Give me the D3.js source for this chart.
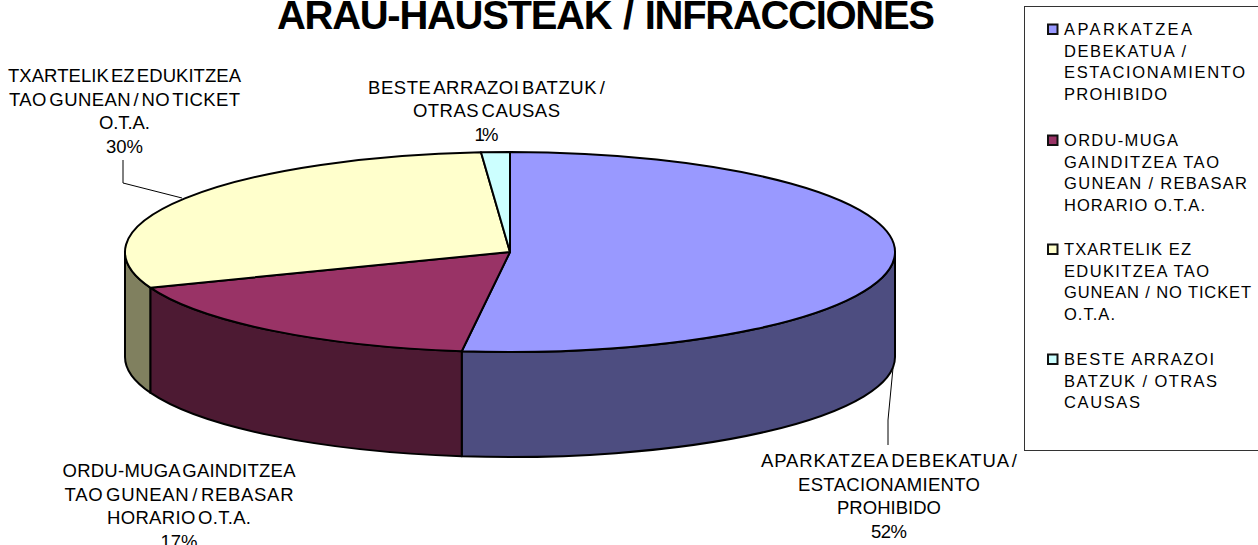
<!DOCTYPE html>
<html>
<head>
<meta charset="utf-8">
<script src="https://cdn.jsdelivr.net/npm/d3@7"></script>
<style>
  html, body { margin: 0; padding: 0; background: #fff; overflow: hidden; }
  text { font-family: "Liberation Sans", Arial, sans-serif; fill: #000; }
  .lbl { font-size: 18.5px; text-anchor: middle; word-spacing: -3px; }
  .leg { font-size: 16.5px; }
</style>
</head>
<body>
<div id="chart"></div>
<script>
// slice values (the printed labels are rounded)
const categories = ['APARKATZEA DEBEKATUA / ESTACIONAMIENTO PROHIBIDO', 'ORDU-MUGA GAINDITZEA TAO GUNEAN / REBASAR HORARIO O.T.A.', 'TXARTELIK EZ EDUKITZEA TAO GUNEAN / NO TICKET O.T.A.', 'BESTE ARRAZOI BATZUK / OTRAS CAUSAS'];
const values = [52, 17.2, 29.6, 1.2];
const topColors = ['#9999ff', '#993366', '#ffffcc', '#ccffff'];
const sideColors = ['#4d4d80', '#4d1a33', '#80805f', '#668080'];

const labelLines = [
    ['APARKATZEA DEBEKATUA /', 'ESTACIONAMIENTO', 'PROHIBIDO', '52%'],
    ['ORDU-MUGA GAINDITZEA', 'TAO GUNEAN / REBASAR', 'HORARIO O.T.A.', '17%'],
    ['TXARTELIK EZ EDUKITZEA', 'TAO GUNEAN / NO TICKET', 'O.T.A.', '30%'],
    ['BESTE ARRAZOI BATZUK /', 'OTRAS CAUSAS', '1%']
];
const labelWidths = [
    [256, 182, 104, 36],
    [233, 229, 144, 37],
    [233, 231, 51, 37],
    [237, 147, 24]
];
const labelPos = [[889, 467], [179, 477], [124.5, 82], [486.5, 93.5]];

const legendLines = [
    ['APARKATZEA', 'DEBEKATUA /', 'ESTACIONAMIENTO', 'PROHIBIDO'],
    ['ORDU-MUGA', 'GAINDITZEA TAO', 'GUNEAN / REBASAR', 'HORARIO O.T.A.'],
    ['TXARTELIK EZ', 'EDUKITZEA TAO', 'GUNEAN / NO TICKET', 'O.T.A.'],
    ['BESTE ARRAZOI', 'BATZUK / OTRAS', 'CAUSAS']
];
const legendWidths = [
    [128, 122, 181, 103],
    [114, 155, 183, 141],
    [127, 145, 187, 51],
    [150, 153, 76]
];

const width = 1258, height = 545;
const depth = 105, labelLineH = 23.5, legendLineH = 21.7;

const svg = d3.select('#chart').append('svg')
    .attr('width', width)
    .attr('height', height)
    .style('display', 'block');

// the pie lies flat, so a unit circle is mapped on to the ellipse
const xScale = d3.scaleLinear().domain([-1, 1]).range([125, 895]);
const yScale = d3.scaleLinear().domain([-1, 1]).range([152, 352]);
const rx = (xScale(1) - xScale(-1)) / 2;
const ry = (yScale(1) - yScale(-1)) / 2;

const px = a => xScale(Math.sin(a));
const py = a => yScale(-Math.cos(a));

const pie = d3.pie().sort(null).value(d => d);
const arcs = pie(values);

const ell = (a0, a1, sweep) =>
    `A${rx},${ry} 0 ${Math.abs(a1 - a0) > Math.PI ? 1 : 0} ${sweep} ${px(a1)},${py(a1)}`;

// side walls, only the front half can be seen
const front = arcs
    .map((d, i) => ({
        i,
        a0: Math.max(d.startAngle, Math.PI / 2),
        a1: Math.min(d.endAngle, Math.PI * 1.5)
    }))
    .filter(d => d.a1 > d.a0);

svg.append('g').selectAll('path')
    .data(front)
    .join('path')
    .attr('fill', d => sideColors[d.i])
    .attr('stroke', '#000')
    .attr('stroke-width', 2)
    .attr('stroke-linejoin', 'round')
    .attr('d', d => `M${px(d.a0)},${py(d.a0)}${ell(d.a0, d.a1, 1)}` +
        `L${px(d.a1)},${py(d.a1) + depth}` +
        `A${rx},${ry} 0 0 0 ${px(d.a0)},${py(d.a0) + depth}Z`);

// top face
svg.append('g').selectAll('path')
    .data(arcs)
    .join('path')
    .attr('fill', (d, i) => topColors[i])
    .attr('stroke', '#000')
    .attr('stroke-width', 2)
    .attr('stroke-linejoin', 'round')
    .attr('d', d => `M${xScale(0)},${yScale(0)}L${px(d.startAngle)},${py(d.startAngle)}` +
        `${ell(d.startAngle, d.endAngle, 1)}Z`);

// leader lines
const leader = d3.line();
const leaders = [
    [[893, 368], [888, 420], [888, 445]],
    [[182, 198], [123, 183], [123, 160]]
];
svg.append('g').selectAll('path')
    .data(leaders)
    .join('path')
    .attr('fill', 'none')
    .attr('stroke', '#000')
    .attr('stroke-width', 1)
    .attr('d', d => leader(d));

// slice labels, one text per line so each can be fitted to its width
const labelRows = labelLines.flatMap((lines, i) => lines.map((t, j) => ({
    t,
    x: labelPos[i][0],
    y: labelPos[i][1] + j * labelLineH,
    w: labelWidths[i][j]
})));

svg.append('g').selectAll('text')
    .data(labelRows)
    .join('text')
    .attr('class', 'lbl')
    .attr('x', d => d.x)
    .attr('y', d => d.y)
    .attr('textLength', d => d.w)
    .text(d => d.t);

// title
svg.append('text')
    .attr('x', 277)
    .attr('y', 29)
    .attr('textLength', 658)
    .style('font-size', '40px')
    .style('font-weight', 'bold')
    .style('word-spacing', '2px')
    .text('ARAU-HAUSTEAK / INFRACCIONES');

// legend
svg.append('rect')
    .attr('x', 1024.5)
    .attr('y', 6.5)
    .attr('width', 240)
    .attr('height', 444)
    .attr('fill', '#fff')
    .attr('stroke', '#333');

const legendTops = [35, 146, 255, 365];

const legend = svg.append('g').selectAll('g')
    .data(categories)
    .join('g')
    .attr('transform', (d, i) => `translate(1047,${legendTops[i]})`);

legend.append('rect')
    .attr('x', 1)
    .attr('y', -10.5)
    .attr('width', 9.5)
    .attr('height', 9.5)
    .attr('fill', (d, i) => topColors[i])
    .attr('stroke', '#111')
    .attr('stroke-width', 2);

legend.selectAll('text')
    .data((d, i) => legendLines[i].map((t, j) => ({ t, j, w: legendWidths[i][j] })))
    .join('text')
    .attr('class', 'leg')
    .attr('x', 17)
    .attr('y', d => d.j * legendLineH)
    .attr('textLength', d => d.w)
    .text(d => d.t);
</script>
</body>
</html>
